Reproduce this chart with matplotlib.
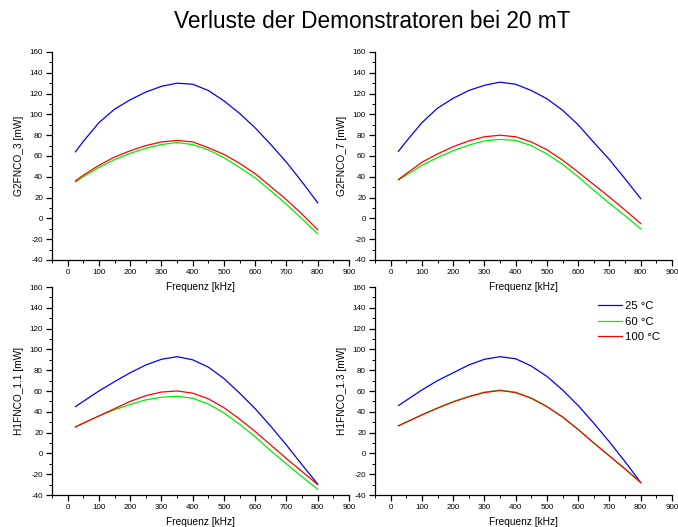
import matplotlib
matplotlib.use("Agg")
import matplotlib.pyplot as plt
from matplotlib.ticker import MultipleLocator

plt.rcParams['font.family'] = ['Liberation Sans', 'DejaVu Sans']
plt.rcParams['axes.unicode_minus'] = False

title = "Verluste der Demonstratoren bei 20 mT"
xlabel = "Frequenz [kHz]"
labels = ["25 °C", "60 °C", "100 °C"]
colors = ["#0000ff", "#00f000", "#ff0000"]

freq = [25, 50, 100, 150, 200, 250, 300, 350, 400, 450, 500, 550, 600, 650, 700, 750, 800]

# G2FNCO_3
g3_25 = [64, 74, 92, 105, 114, 121.5, 127, 130, 129, 123, 113, 101, 87, 71, 54, 35, 15]
g3_60 = [35, 40, 49, 56.5, 62.5, 67.5, 71, 73, 71, 66, 58.5, 49, 39, 26.5, 13.5, -0.5, -15]
g3_100 = [36, 41.5, 51, 59, 65, 70, 73.5, 75, 73.5, 68, 61.5, 53, 43, 30.5, 18, 4, -11]

# G2FNCO_7
g7_25 = [64.5, 74, 92, 106, 115.5, 123, 128, 131, 129, 123, 115, 104, 90, 73, 56.5, 38, 19]
g7_60 = [37, 41.5, 51, 58.5, 65, 70.5, 74.5, 76, 75, 70, 62, 52, 40, 27, 14.5, 2.5, -10]
g7_100 = [37.5, 43, 54, 62, 69, 74.5, 78.5, 80, 78.5, 73.5, 66, 56, 44.5, 32.5, 20.5, 8, -5]

# H1FNCO_1.1
h11_25 = [45, 50, 60, 69, 77.5, 85, 90.5, 93, 90, 83, 72, 58, 43, 26, 8, -11, -29.5]
h11_60 = [25.5, 29, 36, 42, 47, 51.5, 54, 55, 53, 47.5, 39, 28, 16, 2.5, -10, -22.5, -34.5]
h11_100 = [25.5, 29, 36, 43, 50, 55.5, 59, 60, 58, 52.5, 44, 33, 21, 8, -5, -17.5, -30]

# H1FNCO_1.3
h13_25 = [46, 51, 61, 70, 77.5, 85, 90.5, 93, 91, 84, 74, 61, 46, 29, 11, -8, -28]
h13_60 = [26.6, 30.1, 37.1, 43.7, 49.8, 54.8, 58.9, 60.8, 58.8, 53.2, 45.1, 35, 23, 10, -2.5, -15, -28]
h13_100 = [26.5, 30, 37, 43.5, 49.5, 54.5, 58.5, 60.5, 58.5, 53, 45, 35, 23, 10, -2.5, -15, -28]

panels = [
    ("G2FNCO_3 [mW]", [g3_25, g3_60, g3_100]),
    ("G2FNCO_7 [mW]", [g7_25, g7_60, g7_100]),
    ("H1FNCO_1.1 [mW]", [h11_25, h11_60, h11_100]),
    ("H1FNCO_1.3 [mW]", [h13_25, h13_60, h13_100]),
]

W, H = 678, 527
fig = plt.figure(figsize=(W / 100, H / 100), dpi=100)

boxes = [
    (52, 52, 349, 260),
    (375, 52, 672, 260),
    (52, 287, 349, 495),
    (375, 287, 672, 495),
]

axes = []
for (ylab, series), (x0, y0, x1, y1) in zip(panels, boxes):
    ax = fig.add_axes([x0 / W, 1 - y1 / H, (x1 - x0) / W, (y1 - y0) / H])
    for s, c, lab in zip(series, colors, labels):
        ax.plot(freq, s, color=c, lw=0.9, label=lab)
    ax.set_xlim(-50, 900)
    ax.set_ylim(-40, 160)
    ax.xaxis.set_major_locator(MultipleLocator(100))
    ax.xaxis.set_minor_locator(MultipleLocator(50))
    ax.yaxis.set_major_locator(MultipleLocator(20))
    ax.yaxis.set_minor_locator(MultipleLocator(10))
    for sp in ("top", "right"):
        ax.spines[sp].set_visible(False)
    for sp in ("left", "bottom"):
        ax.spines[sp].set_linewidth(0.9)
    ax.tick_params(which="major", direction="out", length=4, width=0.9,
                   labelsize=5.8, pad=2.5, colors="black")
    ax.tick_params(which="minor", direction="out", length=2.2, width=0.7)
    ax.set_xlabel(xlabel, fontsize=7.3, labelpad=4)
    ax.set_ylabel(ylab, fontsize=7.3, labelpad=4)
    ax.patch.set_alpha(0)
    axes.append(ax)

axes[3].legend(loc="upper left", bbox_to_anchor=(598 / W, 1 - 301 / H),
               bbox_transform=fig.transFigure, frameon=False, fontsize=8.2,
               handlelength=2.1, handletextpad=0.25, labelspacing=0.5,
               borderpad=0, borderaxespad=0)

fig.text(372 / W, 1 - 22 / H, title, ha="center", va="center", fontsize=16.3)

fig.savefig("out.png", dpi=100)
